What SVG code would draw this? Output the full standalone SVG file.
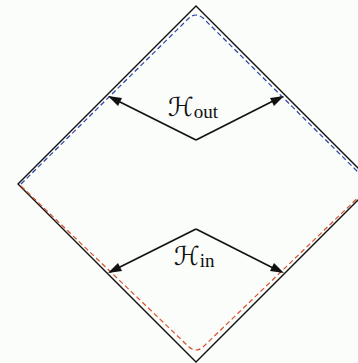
<svg xmlns="http://www.w3.org/2000/svg" width="358" height="363" viewBox="0 0 358 363">
<style>
.edge{fill:none;stroke:#111;stroke-width:1.4}
.blue{fill:none;stroke:#2a3fa8;stroke-width:1.2;stroke-dasharray:5 3}
.red{fill:none;stroke:#d8502a;stroke-width:1.2;stroke-dasharray:5 3}
.arr{fill:none;stroke:#111;stroke-width:1.6}
.lbl{font-family:"DejaVu Sans","Liberation Serif",serif;font-size:26px;fill:#111}
.sub{font-family:"Liberation Serif",serif;font-style:normal;font-size:19px;fill:#111}
</style>
<rect width="358" height="363" fill="#fbfdfb"/>
<g id="diamond">
<path class="edge" d="M196,6 L374,184 L196,362 L18,184 Z"/>
</g>
<g id="h-out-curve">
<path class="blue" d="M21,184 L189,18 Q196,12 203,18 L370,184"/>
</g>
<g id="h-in-curve">
<path class="red" d="M21,186 L189,347 Q196,353 203,347 L370,186"/>
</g>
<g id="connectors">
<path class="arr" d="M196,140 L110,97"/>
<path class="arr" d="M196,140 L281,97"/>
<path class="arr" d="M196,229 L110,272"/>
<path class="arr" d="M196,229 L281,272"/>
<path d="M108,96 L122,98 L118,106 Z" fill="#111"/>
<path d="M284,96 L270,98 L274,106 Z" fill="#111"/>
<path d="M108,273 L118,263 L122,271 Z" fill="#111"/>
<path d="M284,273 L274,263 L270,271 Z" fill="#111"/>
</g>
<g id="label-out">
<text class="lbl" x="168" y="116">ℋ<tspan class="sub" dy="2">out</tspan></text>
</g>
<g id="label-in">
<text class="lbl" x="174" y="265">ℋ<tspan class="sub" dy="2">in</tspan></text>
</g>
</svg>
